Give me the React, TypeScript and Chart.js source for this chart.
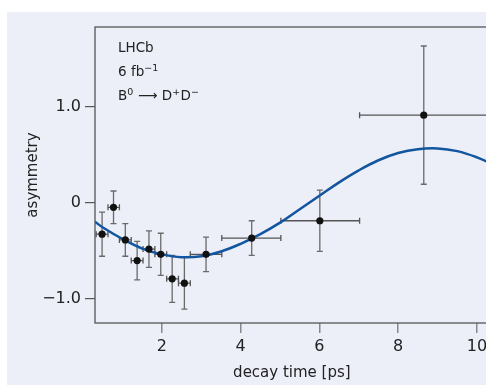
import { useEffect, useRef } from "react";
import { Chart, registerables } from "chart.js";

Chart.register(...registerables);

// ---- data ----
const decayTime = [0.48, 0.77, 1.07, 1.37, 1.67, 1.97, 2.26, 2.57, 3.12, 4.28, 6.01, 8.65];
const binLow = [0.33, 0.63, 0.92, 1.22, 1.52, 1.82, 2.12, 2.42, 2.72, 3.52, 5.02, 7.02];
const binHigh = [0.63, 0.92, 1.22, 1.52, 1.82, 2.12, 2.42, 2.72, 3.52, 5.02, 7.02, 10.3];
const asymmetry = [-0.33, -0.05, -0.39, -0.605, -0.485, -0.54, -0.795, -0.84, -0.54, -0.37, -0.19, 0.91];
const asymErr = [0.23, 0.17, 0.17, 0.2, 0.19, 0.22, 0.245, 0.27, 0.18, 0.18, 0.32, 0.72];

const fitTime = [0.3, 0.5, 1.0, 1.5, 2.0, 2.5, 3.0, 3.5, 4.0, 4.5, 5.0, 5.5, 6.0, 6.5, 7.0, 7.5, 8.0, 8.5, 9.0, 9.5, 10.0, 10.5];
const fitAsym = [-0.2, -0.26, -0.38, -0.48, -0.54, -0.57, -0.56, -0.51, -0.43, -0.33, -0.21, -0.07, 0.07, 0.21, 0.335, 0.44, 0.515, 0.555, 0.563, 0.535, 0.47, 0.38];

const xTicks = [2, 4, 6, 8, 10];
const yTicks = [-1, 0, 1];
const yTickLabels = ["\u22121.0", "0", "1.0"];
const xTitle = "decay time [ps]";
const yTitle = "asymmetry";
const xRange = [0.3, 10.3];
const yRange = [-1.255, 1.828];

const FONT = "'DejaVu Sans', sans-serif";
const TEXT = "#222";

const errorBarPlugin = {
  id: "errorBars",
  beforeDatasetsDraw(chart: any) {
    const { ctx, scales } = chart;
    const xs = scales.x;
    const ys = scales.y;
    ctx.save();
    ctx.lineWidth = 1.3;
    const cap = 3;
    decayTime.forEach((t, i) => {
      const px = xs.getPixelForValue(t);
      const py = ys.getPixelForValue(asymmetry[i]);
      const yTop = ys.getPixelForValue(asymmetry[i] + asymErr[i]);
      const yBot = ys.getPixelForValue(asymmetry[i] - asymErr[i]);
      const xL = xs.getPixelForValue(binLow[i]);
      const xR = xs.getPixelForValue(binHigh[i]);
      ctx.strokeStyle = "#6a6a6a";
      ctx.beginPath();
      ctx.moveTo(px, yTop);
      ctx.lineTo(px, yBot);
      ctx.moveTo(px - cap, yTop);
      ctx.lineTo(px + cap, yTop);
      ctx.moveTo(px - cap, yBot);
      ctx.lineTo(px + cap, yBot);
      ctx.stroke();
      ctx.strokeStyle = "#555";
      ctx.beginPath();
      ctx.moveTo(xL, py);
      ctx.lineTo(xR, py);
      ctx.moveTo(xL, py - cap);
      ctx.lineTo(xL, py + cap);
      ctx.moveTo(xR, py - cap);
      ctx.lineTo(xR, py + cap);
      ctx.stroke();
    });
    ctx.restore();
  },
};

const framePlugin = {
  id: "frame",
  afterDraw(chart: any) {
    const { ctx, chartArea: a } = chart;
    ctx.save();
    ctx.strokeStyle = "#555";
    ctx.lineWidth = 1.3;
    ctx.strokeRect(a.left, a.top, a.right - a.left, a.bottom - a.top);

    // annotation text
    const x0 = a.left + 23;
    const main = `13.5px ${FONT}`;
    const sup = `9.5px ${FONT}`;
    ctx.fillStyle = TEXT;
    ctx.textBaseline = "alphabetic";
    ctx.textAlign = "left";
    const parts = (segs: [string, boolean][], y: number) => {
      let x = x0;
      segs.forEach(([s, isSup]) => {
        ctx.font = isSup ? sup : main;
        ctx.fillText(s, x, isSup ? y - 5 : y);
        x += ctx.measureText(s).width + (isSup ? 0.5 : 0);
      });
    };
    parts([["LHCb", false]], a.top + 25);
    parts([["6 fb", false], ["\u22121", true]], a.top + 49);
    parts(
      [
        ["B", false],
        ["0", true],
        [" \u27F6 D", false],
        ["+", true],
        ["D", false],
        ["\u2212", true],
      ],
      a.top + 73
    );
    ctx.restore();
  },
};

export default function App() {
  const ref = useRef<HTMLCanvasElement>(null);
  useEffect(() => {
    if (!ref.current) return;
    const chart = new Chart(ref.current, {
      type: "scatter",
      data: {
        datasets: [
          {
            type: "line",
            data: fitTime.map((t, i) => ({ x: t, y: fitAsym[i] })),
            borderColor: "#13559f",
            borderWidth: 2.5,
            pointRadius: 0,
            tension: 0.4,
            fill: false,
            order: 1,
          } as any,
          {
            type: "scatter",
            data: decayTime.map((t, i) => ({ x: t, y: asymmetry[i] })),
            backgroundColor: "#111",
            borderWidth: 0,
            pointRadius: 3.6,
            order: 0,
          },
        ],
      },
      options: {
        responsive: false,
        animation: false,
        devicePixelRatio: 1,
        layout: { padding: { top: 15, right: 8.25, left: 0, bottom: 0 } },
        plugins: { legend: { display: false }, tooltip: { enabled: false } },
        scales: {
          x: {
            type: "linear",
            min: xRange[0],
            max: xRange[1],
            afterBuildTicks: (s: any) => {
              s.ticks = xTicks.map((v) => ({ value: v }));
            },
            afterFit: (s: any) => {
              s.height = 62;
            },
            grid: {
              display: true,
              drawOnChartArea: false,
              drawTicks: true,
              tickLength: 10,
              color: "#8a8a8a",
              lineWidth: 1.5,
            },
            border: { display: false },
            ticks: {
              autoSkip: false,
              maxRotation: 0,
              padding: 4,
              color: TEXT,
              font: { family: FONT, size: 16 },
              callback: (v: any) => String(v),
            },
            title: {
              display: true,
              text: xTitle,
              color: TEXT,
              font: { family: FONT, size: 15 },
              padding: { top: 0, bottom: 3 },
            },
          },
          y: {
            type: "linear",
            min: yRange[0],
            max: yRange[1],
            afterBuildTicks: (s: any) => {
              s.ticks = yTicks.map((v) => ({ value: v }));
            },
            afterFit: (s: any) => {
              s.width = 88;
            },
            grid: {
              display: true,
              drawOnChartArea: false,
              drawTicks: true,
              tickLength: 10,
              color: "#555",
              lineWidth: 1.2,
            },
            border: { display: false },
            ticks: {
              autoSkip: false,
              padding: 4,
              color: TEXT,
              font: { family: FONT, size: 16 },
              callback: (v: any) => {
                const i = yTicks.indexOf(Number(v));
                return i >= 0 ? yTickLabels[i] : "";
              },
            },
            title: {
              display: true,
              text: yTitle,
              color: TEXT,
              font: { family: FONT, size: 15 },
              padding: { top: 17, bottom: 0 },
            },
          },
        },
      },
      plugins: [errorBarPlugin, framePlugin],
    });
    return () => chart.destroy();
  }, []);

  return (
    <div
      style={{
        position: "absolute",
        left: 7,
        top: 12,
        width: 479,
        height: 373,
        background: "#eceff8",
        overflow: "hidden",
      }}
    >
      <canvas ref={ref} width={490} height={373} style={{ display: "block" }} />
    </div>
  );
}
